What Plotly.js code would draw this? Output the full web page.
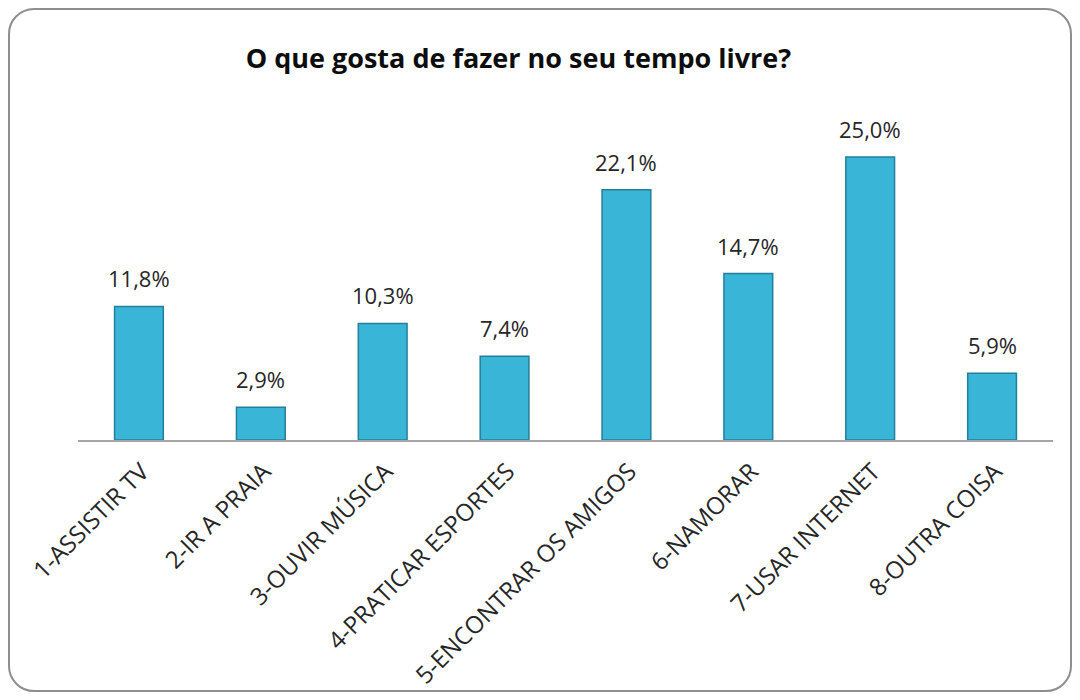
<!DOCTYPE html>
<html>
<head>
<meta charset="utf-8">
<script src="https://cdn.plot.ly/plotly-3.0.1.min.js"></script>
<style>
  html, body { margin: 0; padding: 0; background: #fff; }
  #wrap { position: relative; width: 1080px; height: 700px; }
  #chart { width: 1080px; height: 700px; }
  #frame { position: absolute; left: 8px; top: 8px; width: 1060px; height: 680px;
           border: 2px solid #8e8e8e; border-radius: 26px; pointer-events: none; }
</style>
</head>
<body>
<div id="wrap">
  <div id="chart"></div>
  <div id="frame"></div>
</div>
<script>
const categories = ["1-ASSISTIR TV", "2-IR A PRAIA", "3-OUVIR MÚSICA", "4-PRATICAR ESPORTES",
                    "5-ENCONTRAR OS AMIGOS", "6-NAMORAR", "7-USAR INTERNET", "8-OUTRA COISA"];
const values = [11.8, 2.9, 10.3, 7.4, 22.1, 14.7, 25.0, 5.9];
const valueLabels = ["11,8%", "2,9%", "10,3%", "7,4%", "22,1%", "14,7%", "25,0%", "5,9%"];
const chartTitle = "O que gosta de fazer no seu tempo livre?";

const FONT = "'Open Sans', sans-serif";

const trace = {
  type: "bar",
  x: categories,
  y: values,
  marker: { color: "#38b5d7", line: { color: "#237f9c", width: 1.5 } },
  width: 0.4,
  hoverinfo: "skip"
};

const annotations = categories.map((c, i) => ({
  x: c, y: values[i], xref: "x", yref: "y",
  text: valueLabels[i], showarrow: false,
  yanchor: "bottom", xanchor: "center", yshift: 11,
  font: { family: FONT, size: 22, color: "#262626" }
}));

const layout = {
  width: 1080, height: 700,
  margin: { l: 78, r: 27, t: 100, b: 260 },
  paper_bgcolor: "#ffffff",
  plot_bgcolor: "#ffffff",
  showlegend: false,
  title: {
    text: "<b>" + chartTitle + "</b>",
    font: { family: FONT, size: 27, color: "#0d0d0d" },
    xref: "container", x: 0.48, xanchor: "center",
    yref: "container", y: 0.917, yanchor: "middle"
  },
  xaxis: {
    type: "category",
    tickangle: -45,
    tickfont: { family: FONT, size: 24, color: "#262626" },
    ticklabelstandoff: 6,
    ticklabelshift: 3,
    showline: true, linecolor: "#a6a6a6", linewidth: 2,
    ticks: "", showgrid: false, zeroline: false
  },
  yaxis: {
    range: [0, 30.04],
    visible: false, showgrid: false, zeroline: false
  },
  annotations: annotations,
  font: { family: FONT }
};

Plotly.newPlot("chart", [trace], layout, { displayModeBar: false, staticPlot: true });
</script>
</body>
</html>
